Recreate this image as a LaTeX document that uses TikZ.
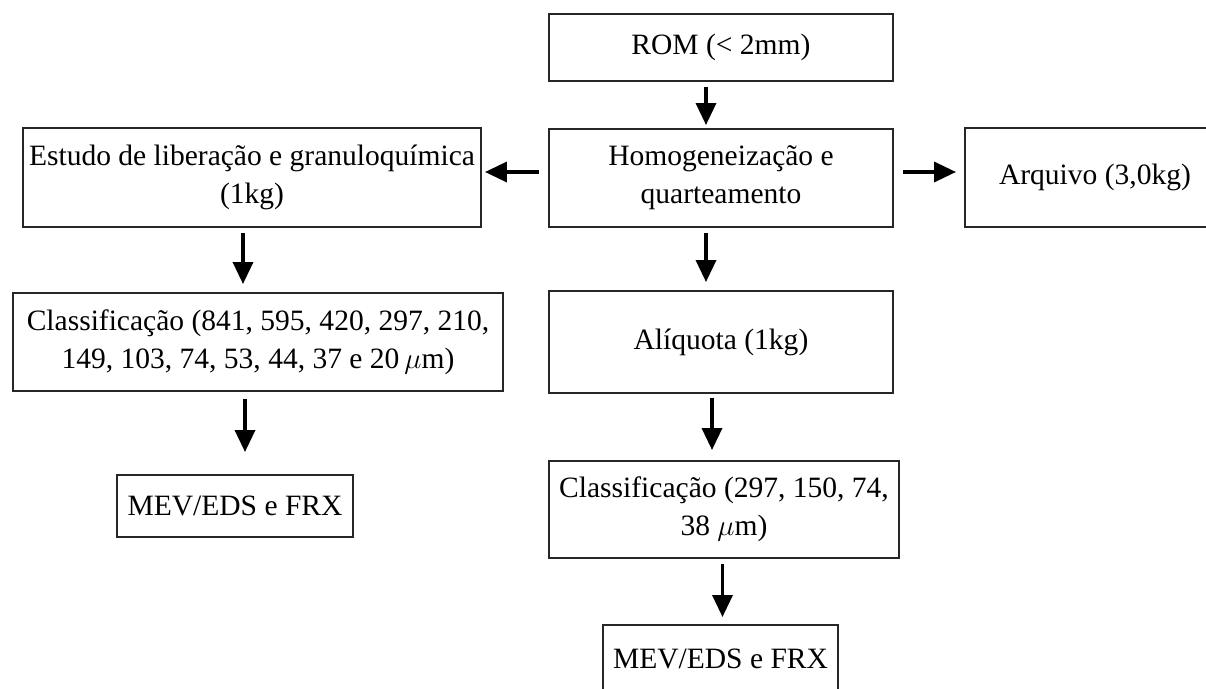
\documentclass[tikz,border=0pt]{standalone}
\usepackage{fontspec}
\setmainfont{Liberation Serif}
\usetikzlibrary{arrows.meta}
\tikzstyle{etapa}=[draw=black!85, line width=1.4pt, align=center,
    inner sep=1mm, font=\fontsize{21}{27}\selectfont]
\tikzstyle{seta}=[line width=2.5pt, -{Triangle[length=5.5mm,width=5mm]}]

\begin{document}
\begin{tikzpicture}
  \useasboundingbox (0,0) rectangle (30.15,-17.225);
  \clip (0,0) rectangle (30.15,-17.225);
  % coluna central
  \node at (18.025,-1.1875) (rom)[etapa, minimum width=8.6cm, minimum height=1.675cm] {ROM (< 2mm)};
  \node at (18.025,-4.45) (homog)[etapa, minimum width=8.6cm, minimum height=2.45cm] {Homogeneização e\\quarteamento};
  \node at (18.025,-8.55) (aliq)[etapa, minimum width=8.6cm, minimum height=2.55cm] {Alíquota (1kg)};
  \node at (18.1,-12.7375) (class2)[etapa, minimum width=8.75cm, minimum height=2.425cm] {Classificação (297, 150, 74,\\38 $\mu$m)};
  \node at (18.0125,-16.4625) (mev2)[etapa, minimum width=5.875cm, minimum height=1.675cm] {MEV/EDS e FRX};
  % coluna esquerda
  \node at (6.3,-4.4375) (estudo)[etapa, minimum width=11.45cm, minimum height=2.475cm] {Estudo de liberação e granuloquímica\\(1kg)};
  \node at (6.45,-8.55) (class1)[etapa, minimum width=12.25cm, minimum height=2.45cm] {Classificação (841, 595, 420, 297, 210,\\149, 103, 74, 53, 44, 37 e 20\,$\mu$m)};
  \node at (5.875,-12.65) (mev1)[etapa, minimum width=5.9cm, minimum height=1.55cm] {MEV/EDS e FRX};
  % direita
  \node at (27.375,-4.4375) (arq)[etapa, minimum width=6.5cm, minimum height=2.475cm] {Arquivo (3,0kg)};

  \draw[seta, shorten <=0.125cm, shorten >=0.075cm] ([xshift=-0.375cm]rom.south) -- ([xshift=-0.375cm]homog.north);
  \draw[seta, shorten <=0.225cm, shorten >=0.075cm] ([yshift=0.15cm]homog.west) -- ([yshift=0.15cm]homog.west -| estudo.east);
  \draw[seta, shorten <=0.225cm, shorten >=0.2cm] ([yshift=0.15cm]homog.east) -- ([yshift=0.15cm]homog.east -| arq.west);
  \draw[seta, shorten <=0.125cm, shorten >=0.2cm] ([xshift=-0.375cm]homog.south) -- ([xshift=-0.375cm]aliq.north);
  \draw[seta, shorten <=0.1cm, shorten >=0.25cm] ([xshift=-0.225cm]aliq.south) -- ([xshift=-0.225cm]aliq.south |- class2.north);
  \draw[seta, shorten <=0.125cm, shorten >=0.175cm] ([xshift=-0.0375cm]class2.south) -- ([xshift=-0.0375cm]class2.south |- mev2.north);

  \draw[seta, shorten <=0.125cm, shorten >=0.2cm] ([xshift=-0.225cm]estudo.south) -- ([xshift=-0.225cm]estudo.south |- class1.north);
  \draw[seta, shorten <=0.175cm, shorten >=0.55cm] ([xshift=-0.325cm]class1.south) -- ([xshift=-0.325cm]class1.south |- mev1.north);
\end{tikzpicture}
\end{document}
